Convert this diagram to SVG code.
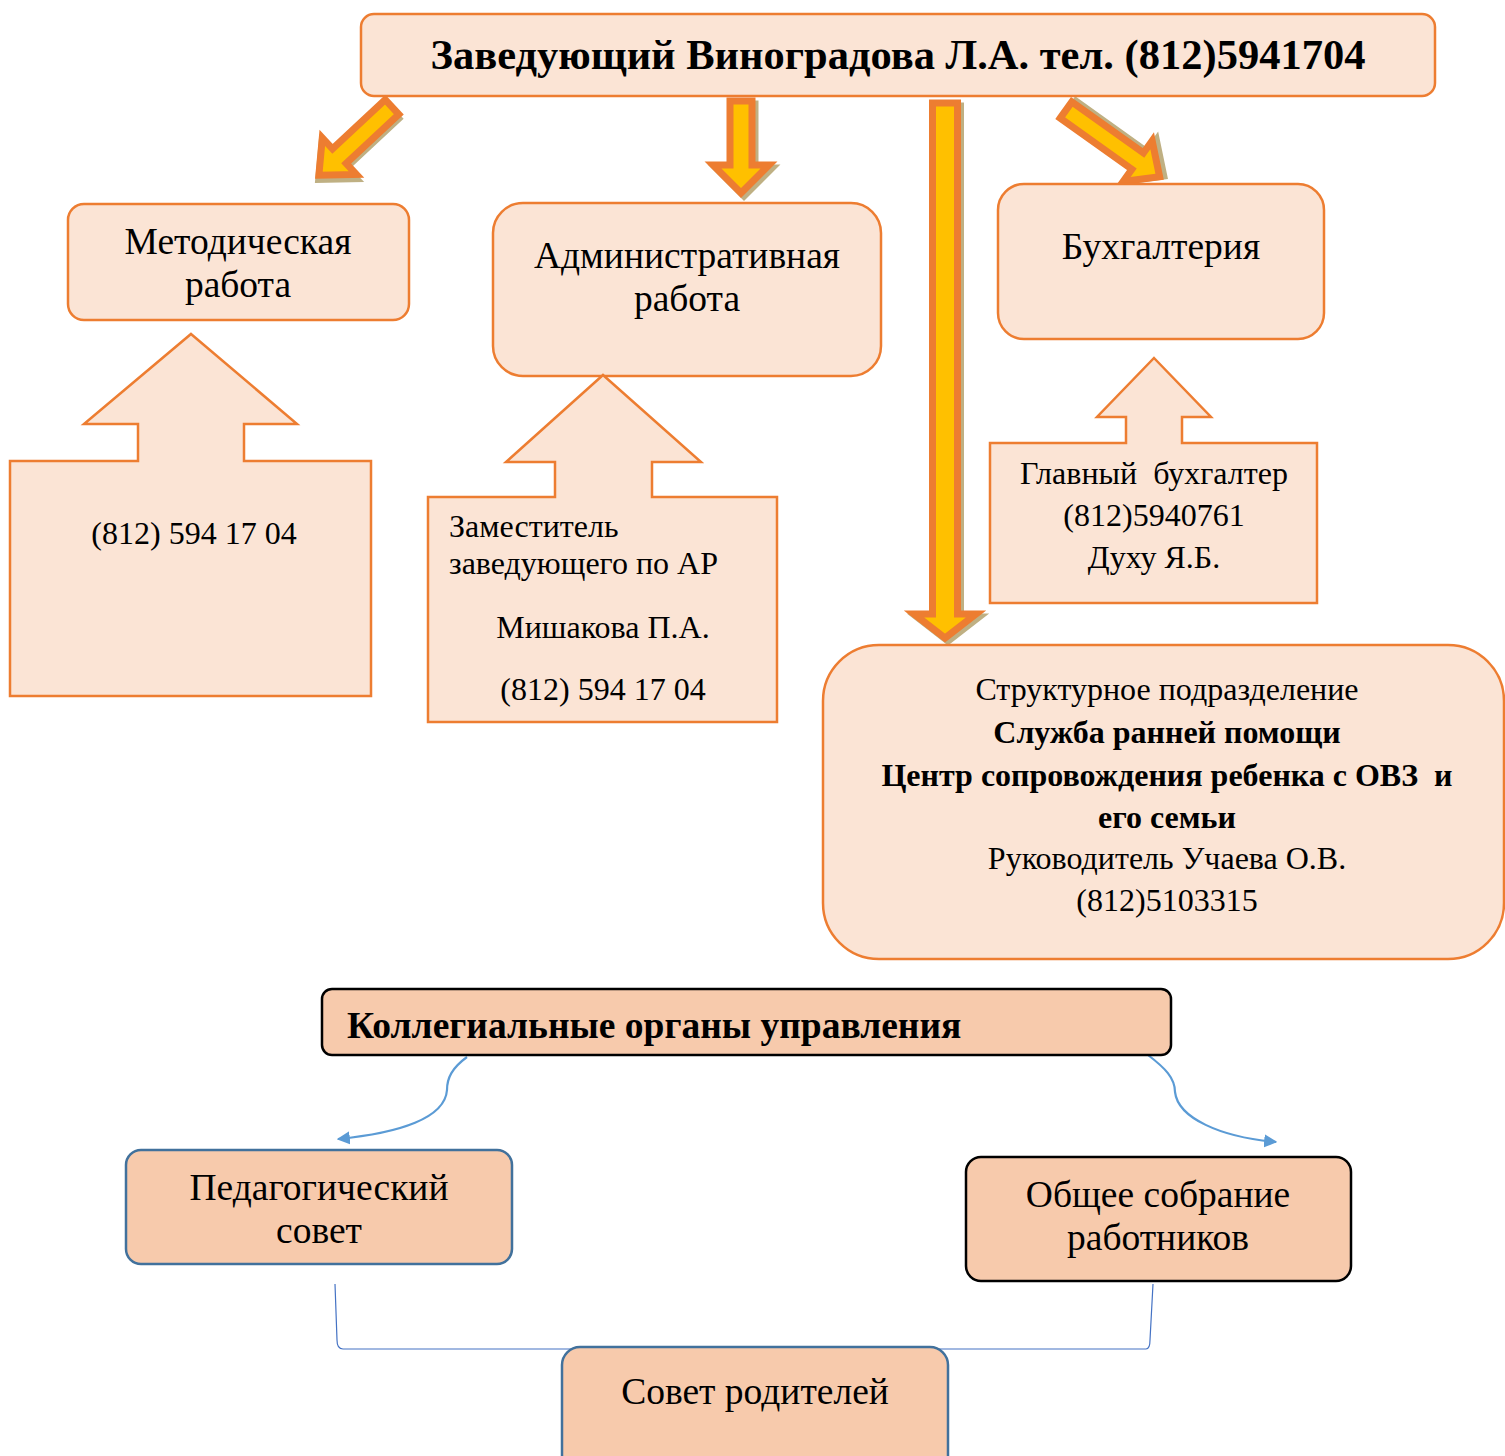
<svg xmlns="http://www.w3.org/2000/svg" width="1505" height="1456" viewBox="0 0 1505 1456">
<defs>
<style>
.ob{fill:#FBE4D5;stroke:#ED7D31;stroke-width:2.5}
.pb{fill:#F7CAAC;stroke-width:2.5}
.t{font-family:"Liberation Serif","Times New Roman",serif;fill:#000}
.c{text-anchor:middle}
.b{font-weight:bold}
.ar{fill:#FFC000;stroke:#ED7D31;stroke-width:7;stroke-linejoin:miter}
.sh{fill:#BFB083;stroke:#BFB083;stroke-width:7}
.con{fill:none;stroke:#5B9BD5;stroke-width:2.2}
</style>
<marker id="ah" viewBox="0 0 10 10" refX="9" refY="5" markerWidth="6" markerHeight="6" orient="auto" markerUnits="strokeWidth">
<path d="M0,0 L10,5 L0,10 z" fill="#5B9BD5"/>
</marker>
</defs>
<rect width="1505" height="1456" fill="#fff"/>

<g id="connectors">
<g id="arrow-left" transform="translate(392,107) rotate(47)">
<path class="sh" transform="translate(3,3)" d="M-10,0 L10,0 L10,72 L25,72 L0,100 L-25,72 L-10,72 Z"/>
<path class="ar" d="M-10,0 L10,0 L10,72 L25,72 L0,100 L-25,72 L-10,72 Z"/>
</g>
<g id="arrow-mid" transform="translate(741,101)">
<path class="sh" transform="translate(3,3)" d="M-11,0 L11,0 L11,64 L28,64 L0,92 L-28,64 L-11,64 Z"/>
<path class="ar" d="M-11,0 L11,0 L11,64 L28,64 L0,92 L-28,64 L-11,64 Z"/>
</g>
<g id="arrow-long" transform="translate(945,103)">
<path class="sh" transform="translate(3,3)" d="M-12.5,0 L12.5,0 L12.5,511 L31,511 L0,535 L-31,511 L-12.5,511 Z"/>
<path class="ar" d="M-12.5,0 L12.5,0 L12.5,511 L31,511 L0,535 L-31,511 L-12.5,511 Z"/>
</g>
<g id="arrow-right" transform="translate(1066,110) rotate(-54.5)">
<path class="sh" transform="translate(3,3)" d="M-10,0 L10,0 L10,88 L25,88 L0,115 L-25,88 L-10,88 Z"/>
<path class="ar" d="M-10,0 L10,0 L10,88 L25,88 L0,115 L-25,88 L-10,88 Z"/>
</g>
<path class="con" d="M467,1057 C452,1068 447,1078 447,1090 C445,1118 400,1133 338,1139" marker-end="url(#ah)"/>
<path class="con" d="M1148,1055 C1165,1068 1175,1078 1175,1092 C1178,1118 1220,1137 1276,1142" marker-end="url(#ah)"/>
<path d="M335,1284 L337,1340 Q337,1349 343,1349 L1146,1349 Q1150,1349 1150,1340 L1153,1284" fill="none" stroke="#4472C4" stroke-width="1.2"/>
</g>

<g id="node-head">
<rect class="ob" x="361" y="14" width="1074" height="82" rx="13"/>
<text class="t c b" x="898" y="69" font-size="42.5">Заведующий Виноградова Л.А. тел. (812)5941704</text>
</g>

<g id="node-metod">
<rect class="ob" x="68" y="204" width="341" height="116" rx="16"/>
<text class="t c" x="238" y="254" font-size="37.5">Методическая</text>
<text class="t c" x="238" y="297" font-size="37.5">работа</text>
</g>

<g id="node-admin">
<rect class="ob" x="493" y="203" width="388" height="173" rx="30"/>
<text class="t c" x="687" y="268" font-size="37.5">Административная</text>
<text class="t c" x="687" y="311" font-size="37.5">работа</text>
</g>

<g id="node-buh">
<rect class="ob" x="998" y="184" width="326" height="155" rx="26"/>
<text class="t c" x="1161" y="259" font-size="37.5">Бухгалтерия</text>
</g>

<g id="node-callout-metod">
<path class="ob" d="M191,334 L297,424 L244,424 L244,461 L371,461 L371,696 L10,696 L10,461 L138,461 L138,424 L84,424 Z"/>
<text class="t c" x="194" y="544" font-size="32">(812) 594 17 04</text>
</g>

<g id="node-callout-admin">
<path class="ob" d="M603,375 L701,462 L652,462 L652,497 L777,497 L777,722 L428,722 L428,497 L555,497 L555,462 L506,462 Z"/>
<text class="t" x="449" y="537" font-size="32">Заместитель</text>
<text class="t" x="449" y="574" font-size="32">заведующего по АР</text>
<text class="t c" x="603" y="638" font-size="32">Мишакова П.А.</text>
<text class="t c" x="603" y="700" font-size="32">(812) 594 17 04</text>
</g>

<g id="node-callout-buh">
<path class="ob" d="M1154,358 L1211,417 L1182,417 L1182,443 L1317,443 L1317,603 L990,603 L990,443 L1126,443 L1126,417 L1097,417 Z"/>
<text class="t c" x="1154" y="484" font-size="32" xml:space="preserve">Главный  бухгалтер</text>
<text class="t c" x="1154" y="526" font-size="32">(812)5940761</text>
<text class="t c" x="1154" y="568" font-size="32">Духу Я.Б.</text>
</g>

<g id="node-struct">
<rect class="ob" x="823" y="645" width="681" height="314" rx="56"/>
<text class="t c" x="1167" y="700" font-size="32">Структурное подразделение</text>
<text class="t c b" x="1167" y="743" font-size="32">Служба ранней помощи</text>
<text class="t c b" x="1167" y="786" font-size="32" xml:space="preserve">Центр сопровождения ребенка с ОВЗ  и</text>
<text class="t c b" x="1167" y="828" font-size="32">его семьи</text>
<text class="t c" x="1167" y="869" font-size="32">Руководитель Учаева О.В.</text>
<text class="t c" x="1167" y="911" font-size="32">(812)5103315</text>
</g>

<g id="node-collegial">
<rect class="pb" x="322" y="989" width="849" height="66" rx="10" stroke="#000" stroke-width="2"/>
<text class="t b" x="347" y="1038" font-size="37.5">Коллегиальные органы управления</text>
</g>

<g id="node-ped">
<rect class="pb" x="126" y="1150" width="386" height="114" rx="15" stroke="#41719C"/>
<text class="t c" x="319" y="1200" font-size="37.5">Педагогический</text>
<text class="t c" x="319" y="1243" font-size="37.5">совет</text>
</g>

<g id="node-obsh">
<rect class="pb" x="966" y="1157" width="385" height="124" rx="15" stroke="#000" stroke-width="2"/>
<text class="t c" x="1158" y="1207" font-size="37.5">Общее собрание</text>
<text class="t c" x="1158" y="1250" font-size="37.5">работников</text>
</g>

<g id="node-parents">
<rect class="pb" x="562" y="1347" width="386" height="130" rx="18" stroke="#41719C"/>
<text class="t c" x="755" y="1404" font-size="37.5">Совет родителей</text>
</g>
</svg>
